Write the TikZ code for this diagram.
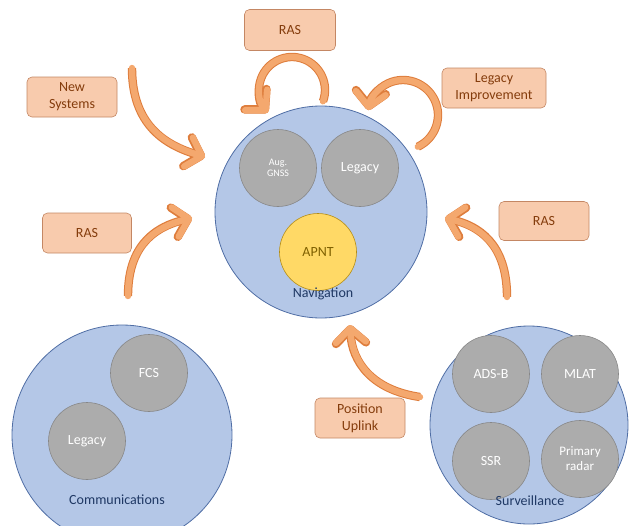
\documentclass[tikz,border=0pt]{standalone}
\usepackage{fontspec}
\setmainfont{Carlito}
\usetikzlibrary{arrows.meta,calc}
\definecolor{boxfill}{RGB}{248,203,173}
\definecolor{boxedge}{RGB}{196,135,100}
\definecolor{boxtext}{RGB}{132,60,12}
\definecolor{arrowfill}{RGB}{244,168,110}
\definecolor{arrowedge}{RGB}{222,125,60}
\definecolor{bluefill}{RGB}{180,199,231}
\definecolor{blueedge}{RGB}{80,110,165}
\definecolor{bluetext}{RGB}{31,56,100}
\definecolor{grayfill}{RGB}{172,172,172}
\definecolor{grayedge}{RGB}{135,135,135}
\definecolor{yellowfill}{RGB}{255,217,102}
\definecolor{yellowedge}{RGB}{180,140,20}
\definecolor{yellowtext}{RGB}{127,96,0}
\begin{document}
\begin{tikzpicture}[x=1pt,y=-1pt,
  group/.style={circle, fill=bluefill, draw=blueedge, line width=0.8pt, minimum size=#1, inner sep=0pt},
  member/.style={circle, fill=grayfill, draw=grayedge, line width=0.6pt, minimum size=77pt, inner sep=0pt, text=white, font=\fontsize{14}{16}\selectfont, align=center},
  grouplabel/.style={text=bluetext, font=\fontsize{14}{16}\selectfont, inner sep=1pt},
  tag/.style={rectangle, rounded corners=5pt, fill=boxfill, draw=boxedge, line width=0.6pt, minimum width=90pt, minimum height=40pt, text=boxtext, font=\fontsize{14}{17}\selectfont, align=center, inner sep=2pt},
  flow/.style={line cap=round, draw=arrowfill, line width=6.4pt, -{Straight Barb[length=14pt,width=30pt,round]},
    preaction={draw=arrowedge, line width=8.4pt, -{Straight Barb[length=14pt,width=30pt,round]}}}
]
\useasboundingbox (0,0) rectangle (631,525);

% Navigation group
\node[group=212pt] (nav) at (321,212) {};
\node[member, font=\fontsize{10}{11}\selectfont] (aug) at (278,168) {Aug.\\GNSS};
\node[member] (navleg) at (360,168) {Legacy};
\node[member, fill=yellowfill, draw=yellowedge, text=yellowtext] (apnt) at (318,252) {APNT};
\node[grouplabel] (navlab) at (323,294) {Navigation};

% Communications group
\node[group=220pt] (comm) at (122,435) {};
\node[member] (fcs) at (149,373) {FCS};
\node[member] (commleg) at (87,441) {Legacy};
\node[grouplabel] (commlab) at (117,500) {Communications};

% Surveillance group
\node[group=198pt] (surv) at (529,425) {};
\node[member] (adsb) at (491,374) {ADS-B};
\node[member] (mlat) at (580,374) {MLAT};
\node[member] (ssr) at (491,461) {SSR};
\node[member, font=\fontsize{13}{15}\selectfont] (prim) at (580,459) {Primary\\radar};
\node[grouplabel] (survlab) at (530,501) {Surveillance};

% Tags
\node[tag, minimum width=91pt, minimum height=41pt] (rastop) at (290,30) {RAS};
\node[tag, minimum width=104pt] (legimp) at (494,88) {Legacy\\Improvement};
\node[tag] (newsys) at (72,97) {New\\Systems};
\node[tag, minimum width=89pt] (rasleft) at (87,233) {RAS};
\node[tag, minimum height=39pt] (rasright) at (544,221) {RAS};
\node[tag] (posup) at (360,418) {Position\\Uplink};

% Arrow endpoints
\coordinate (a1s) at (132,68);  \coordinate (a1e) at (205,157);
\coordinate (a2s) at (128,296); \coordinate (a2e) at (192,218);
\coordinate (a3s) at ($(292,90)+(20:33)$);
\coordinate (a4s) at ($(403,115)+(65:35)$);
\coordinate (a5s) at (420,397); \coordinate (a5e) at (350,325);
\coordinate (a6s) at (507,297); \coordinate (a6e) at (445,218);

% Arrows
\draw[flow] (a1s) .. controls (132,125) and (165,145) .. (a1e);
\draw[flow] (a2s) .. controls (128,250) and (150,228) .. (a2e);
\draw[flow] (a3s) arc[start angle=20, end angle=-223, radius=33];
\draw[flow] (a4s) arc[start angle=65, end angle=-172, radius=35];
\draw[flow] (a5s) .. controls (372,390) and (352,362) .. (a5e);
\draw[flow] (a6s) .. controls (507,252) and (487,228) .. (a6e);
\end{tikzpicture}
\end{document}
